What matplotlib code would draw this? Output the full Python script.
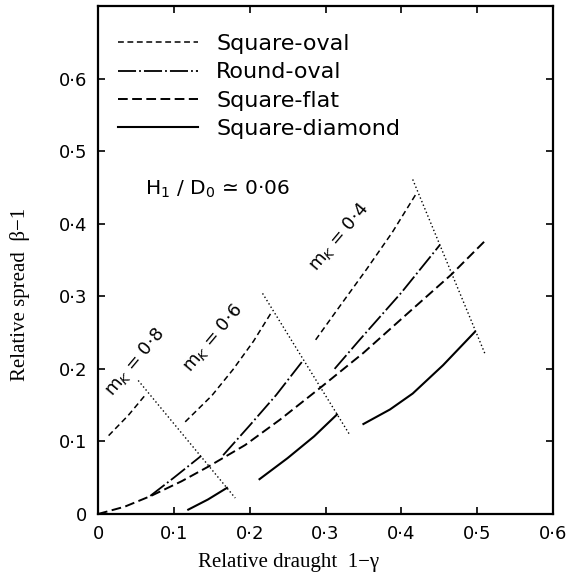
import matplotlib
matplotlib.use("Agg")
import matplotlib.pyplot as plt

# Square-oval (short dashes), one segment per mk value
so_08_x = [0.014, 0.040, 0.064]
so_08_y = [0.108, 0.136, 0.166]
so_06_x = [0.115, 0.150, 0.178, 0.205, 0.230]
so_06_y = [0.127, 0.163, 0.199, 0.238, 0.280]
so_04_x = [0.287, 0.320, 0.354, 0.388, 0.420]
so_04_y = [0.240, 0.288, 0.337, 0.388, 0.442]

# Round-oval (dash-dot)
ro_08_x = [0.069, 0.100, 0.136]
ro_08_y = [0.025, 0.050, 0.080]
ro_06_x = [0.165, 0.200, 0.235, 0.270]
ro_06_y = [0.081, 0.122, 0.164, 0.211]
ro_04_x = [0.312, 0.345, 0.400, 0.451]
ro_04_y = [0.200, 0.240, 0.305, 0.371]

# Square-flat (long dashes), one continuous curve
sf_x = [0.0, 0.035, 0.070, 0.110, 0.145, 0.194, 0.240, 0.292, 0.350, 0.410, 0.466, 0.510]
sf_y = [0.0, 0.010, 0.025, 0.045, 0.065, 0.095, 0.130, 0.173, 0.222, 0.278, 0.330, 0.376]

# Square-diamond (solid)
sd_08_x = [0.119, 0.145, 0.170]
sd_08_y = [0.006, 0.020, 0.036]
sd_06_x = [0.213, 0.250, 0.285, 0.315]
sd_06_y = [0.048, 0.077, 0.107, 0.137]
sd_04_x = [0.350, 0.385, 0.415, 0.455, 0.497]
sd_04_y = [0.124, 0.144, 0.166, 0.205, 0.251]

# constant mk lines (dotted)
mk_vals = ["0·8", "0·6", "0·4"]
mk_x = [[0.053, 0.181], [0.217, 0.332], [0.415, 0.511]]
mk_y = [[0.184, 0.022], [0.304, 0.109], [0.461, 0.219]]
mk_lab_x = [0.049, 0.152, 0.318]
mk_lab_y = [0.209, 0.242, 0.382]

ticks = [0, 0.1, 0.2, 0.3, 0.4, 0.5, 0.6]
tick_labels = ["0", "0·1", "0·2", "0·3", "0·4", "0·5", "0·6"]

plt.rcParams["lines.scale_dashes"] = False
plt.rcParams["font.family"] = "DejaVu Sans"

fig = plt.figure(figsize=(5.79, 5.79), dpi=100)
ax = fig.add_axes([98 / 579, 65 / 579, 455 / 579, 508 / 579])

so_style = dict(color="black", lw=1.1, dashes=(4.2, 2.6))
ro_style = dict(color="black", lw=1.3, dashes=(13, 2.2, 1.3, 2.2))
sf_style = dict(color="black", lw=1.4, dashes=(7, 3.2))
sd_style = dict(color="black", lw=1.5)

ax.plot(so_08_x, so_08_y, label="Square-oval", **so_style)
ax.plot(so_06_x, so_06_y, **so_style)
ax.plot(so_04_x, so_04_y, **so_style)

ax.plot(ro_08_x, ro_08_y, label="Round-oval", **ro_style)
ax.plot(ro_06_x, ro_06_y, **ro_style)
ax.plot(ro_04_x, ro_04_y, **ro_style)

ax.plot(sf_x, sf_y, label="Square-flat", **sf_style)

ax.plot(sd_08_x, sd_08_y, label="Square-diamond", **sd_style)
ax.plot(sd_06_x, sd_06_y, **sd_style)
ax.plot(sd_04_x, sd_04_y, **sd_style)

for xs, ys, v, lx, ly in zip(mk_x, mk_y, mk_vals, mk_lab_x, mk_lab_y):
    ax.plot(xs, ys, color="black", lw=1.0, dashes=(1, 1.8))
    ax.text(lx, ly, "m$_K$ = " + v, rotation=50, fontsize=13,
            ha="center", va="center")

ax.text(0.158, 0.447, "H$_1$ / D$_0$ ≃ 0·06", fontsize=14.5,
        ha="center", va="center")

ax.set_xlim(0, 0.6)
ax.set_ylim(0, 0.7)
ax.set_xticks(ticks)
ax.set_xticklabels(tick_labels)
ax.set_yticks(ticks)
ax.set_yticklabels(tick_labels)
ax.tick_params(direction="in", top=True, right=True, length=5, width=1.2,
               labelsize=13, pad=8)
for s in ax.spines.values():
    s.set_linewidth(1.6)

ax.set_xlabel("Relative draught  1−γ", family="Liberation Serif", fontsize=15)
ax.xaxis.set_label_coords(0.418, -0.076)
ax.set_ylabel("Relative spread  β−1", family="Liberation Serif", fontsize=15)
ax.yaxis.set_label_coords(-0.15, 0.433)

ax.legend(loc="upper left", bbox_to_anchor=(0.045, 0.945), frameon=False,
          fontsize=16, handlelength=3.6, handletextpad=0.8,
          labelspacing=0.38, borderpad=0, borderaxespad=0)

fig.savefig("out.png", dpi=100)
